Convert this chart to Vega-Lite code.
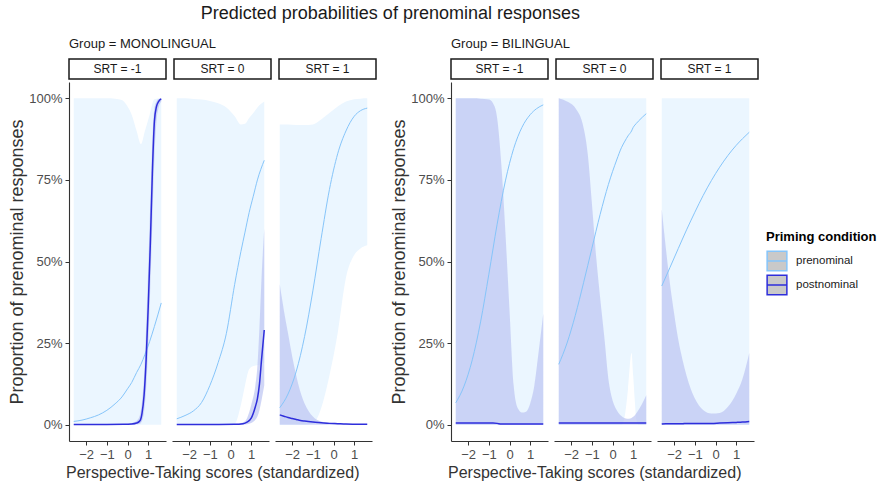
{
  "$schema": "https://vega.github.io/schema/vega-lite/v6.json",
  "background": "white",
  "padding": {"left": 7, "top": 5, "right": 2, "bottom": 2},
  "title": {"text": "Predicted probabilities of prenominal responses", "fontSize": 18, "fontWeight": "normal", "anchor": "middle", "dx": -52, "color": "#1a1a1a", "offset": 15},
  "datasets": {
    "strips": [
      {"group": "MONOLINGUAL", "srt": -1, "label": "SRT = -1"},
      {"group": "MONOLINGUAL", "srt": 0, "label": "SRT = 0"},
      {"group": "MONOLINGUAL", "srt": 1, "label": "SRT = 1"},
      {"group": "BILINGUAL", "srt": -1, "label": "SRT = -1"},
      {"group": "BILINGUAL", "srt": 0, "label": "SRT = 0"},
      {"group": "BILINGUAL", "srt": 1, "label": "SRT = 1"}
    ],
    "curves": [
      {"group": "MONOLINGUAL", "srt": -1, "condition": "prenominal", "x": -2.6, "p": 0.010, "lower": 0, "upper": 1},
      {"group": "MONOLINGUAL", "srt": -1, "condition": "prenominal", "x": -2.2, "p": 0.014, "lower": 0, "upper": 1},
      {"group": "MONOLINGUAL", "srt": -1, "condition": "prenominal", "x": -1.8, "p": 0.021, "lower": 0, "upper": 1},
      {"group": "MONOLINGUAL", "srt": -1, "condition": "prenominal", "x": -1.4, "p": 0.030, "lower": 0, "upper": 1},
      {"group": "MONOLINGUAL", "srt": -1, "condition": "prenominal", "x": -1.0, "p": 0.044, "lower": 0, "upper": 1},
      {"group": "MONOLINGUAL", "srt": -1, "condition": "prenominal", "x": -0.6, "p": 0.064, "lower": 0, "upper": 0.999},
      {"group": "MONOLINGUAL", "srt": -1, "condition": "prenominal", "x": -0.27, "p": 0.085, "lower": 0, "upper": 0.995},
      {"group": "MONOLINGUAL", "srt": -1, "condition": "prenominal", "x": 0.0, "p": 0.11, "lower": 0, "upper": 0.975},
      {"group": "MONOLINGUAL", "srt": -1, "condition": "prenominal", "x": 0.2, "p": 0.129, "lower": 0, "upper": 0.95},
      {"group": "MONOLINGUAL", "srt": -1, "condition": "prenominal", "x": 0.44, "p": 0.16, "lower": 0, "upper": 0.90},
      {"group": "MONOLINGUAL", "srt": -1, "condition": "prenominal", "x": 0.65, "p": 0.185, "lower": 0, "upper": 0.86},
      {"group": "MONOLINGUAL", "srt": -1, "condition": "prenominal", "x": 0.84, "p": 0.215, "lower": 0, "upper": 0.90},
      {"group": "MONOLINGUAL", "srt": -1, "condition": "prenominal", "x": 1.07, "p": 0.255, "lower": 0, "upper": 0.95},
      {"group": "MONOLINGUAL", "srt": -1, "condition": "prenominal", "x": 1.3, "p": 0.301, "lower": 0, "upper": 0.997},
      {"group": "MONOLINGUAL", "srt": -1, "condition": "prenominal", "x": 1.63, "p": 0.373, "lower": 0, "upper": 1},
      {"group": "MONOLINGUAL", "srt": -1, "condition": "postnominal", "x": -2.6, "p": 0.0005, "lower": 0, "upper": 0.001},
      {"group": "MONOLINGUAL", "srt": -1, "condition": "postnominal", "x": -1.8, "p": 0.0005, "lower": 0, "upper": 0.001},
      {"group": "MONOLINGUAL", "srt": -1, "condition": "postnominal", "x": -1.0, "p": 0.0005, "lower": 0, "upper": 0.001},
      {"group": "MONOLINGUAL", "srt": -1, "condition": "postnominal", "x": -0.2, "p": 0.001, "lower": 0, "upper": 0.002},
      {"group": "MONOLINGUAL", "srt": -1, "condition": "postnominal", "x": 0.2, "p": 0.002, "lower": 0, "upper": 0.005},
      {"group": "MONOLINGUAL", "srt": -1, "condition": "postnominal", "x": 0.44, "p": 0.005, "lower": 0.001, "upper": 0.012},
      {"group": "MONOLINGUAL", "srt": -1, "condition": "postnominal", "x": 0.6, "p": 0.012, "lower": 0.003, "upper": 0.03},
      {"group": "MONOLINGUAL", "srt": -1, "condition": "postnominal", "x": 0.7, "p": 0.035, "lower": 0.012, "upper": 0.07},
      {"group": "MONOLINGUAL", "srt": -1, "condition": "postnominal", "x": 0.8, "p": 0.09, "lower": 0.04, "upper": 0.15},
      {"group": "MONOLINGUAL", "srt": -1, "condition": "postnominal", "x": 0.9, "p": 0.20, "lower": 0.11, "upper": 0.30},
      {"group": "MONOLINGUAL", "srt": -1, "condition": "postnominal", "x": 1.0, "p": 0.36, "lower": 0.24, "upper": 0.48},
      {"group": "MONOLINGUAL", "srt": -1, "condition": "postnominal", "x": 1.1, "p": 0.55, "lower": 0.42, "upper": 0.68},
      {"group": "MONOLINGUAL", "srt": -1, "condition": "postnominal", "x": 1.2, "p": 0.77, "lower": 0.62, "upper": 0.87},
      {"group": "MONOLINGUAL", "srt": -1, "condition": "postnominal", "x": 1.3, "p": 0.93, "lower": 0.82, "upper": 0.97},
      {"group": "MONOLINGUAL", "srt": -1, "condition": "postnominal", "x": 1.4, "p": 0.975, "lower": 0.93, "upper": 0.99},
      {"group": "MONOLINGUAL", "srt": -1, "condition": "postnominal", "x": 1.5, "p": 0.99, "lower": 0.97, "upper": 0.998},
      {"group": "MONOLINGUAL", "srt": -1, "condition": "postnominal", "x": 1.63, "p": 0.998, "lower": 0.99, "upper": 1},

      {"group": "MONOLINGUAL", "srt": 0, "condition": "prenominal", "x": -2.6, "p": 0.018, "lower": 0, "upper": 1},
      {"group": "MONOLINGUAL", "srt": 0, "condition": "prenominal", "x": -2.2, "p": 0.028, "lower": 0, "upper": 1},
      {"group": "MONOLINGUAL", "srt": 0, "condition": "prenominal", "x": -1.8, "p": 0.042, "lower": 0, "upper": 0.998},
      {"group": "MONOLINGUAL", "srt": 0, "condition": "prenominal", "x": -1.4, "p": 0.068, "lower": 0, "upper": 0.996},
      {"group": "MONOLINGUAL", "srt": 0, "condition": "prenominal", "x": -1.0, "p": 0.12, "lower": 0, "upper": 0.992},
      {"group": "MONOLINGUAL", "srt": 0, "condition": "prenominal", "x": -0.6, "p": 0.19, "lower": 0, "upper": 0.985},
      {"group": "MONOLINGUAL", "srt": 0, "condition": "prenominal", "x": -0.2, "p": 0.28, "lower": 0, "upper": 0.972},
      {"group": "MONOLINGUAL", "srt": 0, "condition": "prenominal", "x": 0.2, "p": 0.43, "lower": 0.003, "upper": 0.945},
      {"group": "MONOLINGUAL", "srt": 0, "condition": "prenominal", "x": 0.5, "p": 0.53, "lower": 0.06, "upper": 0.92},
      {"group": "MONOLINGUAL", "srt": 0, "condition": "prenominal", "x": 0.7, "p": 0.59, "lower": 0.12, "upper": 0.922},
      {"group": "MONOLINGUAL", "srt": 0, "condition": "prenominal", "x": 0.9, "p": 0.65, "lower": 0.17, "upper": 0.94},
      {"group": "MONOLINGUAL", "srt": 0, "condition": "prenominal", "x": 1.1, "p": 0.70, "lower": 0.18, "upper": 0.955},
      {"group": "MONOLINGUAL", "srt": 0, "condition": "prenominal", "x": 1.3, "p": 0.75, "lower": 0.182, "upper": 0.972},
      {"group": "MONOLINGUAL", "srt": 0, "condition": "prenominal", "x": 1.63, "p": 0.81, "lower": 0.19, "upper": 0.99},
      {"group": "MONOLINGUAL", "srt": 0, "condition": "postnominal", "x": -2.6, "p": 0.0005, "lower": 0, "upper": 0.001},
      {"group": "MONOLINGUAL", "srt": 0, "condition": "postnominal", "x": -1.0, "p": 0.0005, "lower": 0, "upper": 0.001},
      {"group": "MONOLINGUAL", "srt": 0, "condition": "postnominal", "x": 0.2, "p": 0.001, "lower": 0, "upper": 0.003},
      {"group": "MONOLINGUAL", "srt": 0, "condition": "postnominal", "x": 0.6, "p": 0.003, "lower": 0, "upper": 0.007},
      {"group": "MONOLINGUAL", "srt": 0, "condition": "postnominal", "x": 0.8, "p": 0.008, "lower": 0.001, "upper": 0.02},
      {"group": "MONOLINGUAL", "srt": 0, "condition": "postnominal", "x": 1.0, "p": 0.02, "lower": 0.005, "upper": 0.06},
      {"group": "MONOLINGUAL", "srt": 0, "condition": "postnominal", "x": 1.2, "p": 0.055, "lower": 0.015, "upper": 0.12},
      {"group": "MONOLINGUAL", "srt": 0, "condition": "postnominal", "x": 1.3, "p": 0.08, "lower": 0.025, "upper": 0.18},
      {"group": "MONOLINGUAL", "srt": 0, "condition": "postnominal", "x": 1.4, "p": 0.125, "lower": 0.045, "upper": 0.30},
      {"group": "MONOLINGUAL", "srt": 0, "condition": "postnominal", "x": 1.5, "p": 0.20, "lower": 0.075, "upper": 0.45},
      {"group": "MONOLINGUAL", "srt": 0, "condition": "postnominal", "x": 1.63, "p": 0.29, "lower": 0.12, "upper": 0.60},

      {"group": "MONOLINGUAL", "srt": 1, "condition": "prenominal", "x": -2.6, "p": 0.052, "lower": 0, "upper": 0.92},
      {"group": "MONOLINGUAL", "srt": 1, "condition": "prenominal", "x": -2.2, "p": 0.094, "lower": 0, "upper": 0.92},
      {"group": "MONOLINGUAL", "srt": 1, "condition": "prenominal", "x": -1.8, "p": 0.164, "lower": 0, "upper": 0.918},
      {"group": "MONOLINGUAL", "srt": 1, "condition": "prenominal", "x": -1.4, "p": 0.27, "lower": 0, "upper": 0.918},
      {"group": "MONOLINGUAL", "srt": 1, "condition": "prenominal", "x": -1.0, "p": 0.41, "lower": 0.003, "upper": 0.92},
      {"group": "MONOLINGUAL", "srt": 1, "condition": "prenominal", "x": -0.6, "p": 0.57, "lower": 0.05, "upper": 0.935},
      {"group": "MONOLINGUAL", "srt": 1, "condition": "prenominal", "x": -0.2, "p": 0.72, "lower": 0.15, "upper": 0.955},
      {"group": "MONOLINGUAL", "srt": 1, "condition": "prenominal", "x": 0.2, "p": 0.83, "lower": 0.28, "upper": 0.975},
      {"group": "MONOLINGUAL", "srt": 1, "condition": "prenominal", "x": 0.6, "p": 0.90, "lower": 0.45, "upper": 0.99},
      {"group": "MONOLINGUAL", "srt": 1, "condition": "prenominal", "x": 1.0, "p": 0.945, "lower": 0.52, "upper": 0.997},
      {"group": "MONOLINGUAL", "srt": 1, "condition": "prenominal", "x": 1.3, "p": 0.962, "lower": 0.54, "upper": 0.999},
      {"group": "MONOLINGUAL", "srt": 1, "condition": "prenominal", "x": 1.63, "p": 0.97, "lower": 0.55, "upper": 1},
      {"group": "MONOLINGUAL", "srt": 1, "condition": "postnominal", "x": -2.6, "p": 0.03, "lower": 0, "upper": 0.43},
      {"group": "MONOLINGUAL", "srt": 1, "condition": "postnominal", "x": -2.4, "p": 0.026, "lower": 0, "upper": 0.35},
      {"group": "MONOLINGUAL", "srt": 1, "condition": "postnominal", "x": -2.2, "p": 0.022, "lower": 0, "upper": 0.28},
      {"group": "MONOLINGUAL", "srt": 1, "condition": "postnominal", "x": -2.0, "p": 0.019, "lower": 0, "upper": 0.21},
      {"group": "MONOLINGUAL", "srt": 1, "condition": "postnominal", "x": -1.8, "p": 0.016, "lower": 0, "upper": 0.15},
      {"group": "MONOLINGUAL", "srt": 1, "condition": "postnominal", "x": -1.6, "p": 0.013, "lower": 0, "upper": 0.10},
      {"group": "MONOLINGUAL", "srt": 1, "condition": "postnominal", "x": -1.4, "p": 0.011, "lower": 0, "upper": 0.065},
      {"group": "MONOLINGUAL", "srt": 1, "condition": "postnominal", "x": -1.0, "p": 0.008, "lower": 0, "upper": 0.025},
      {"group": "MONOLINGUAL", "srt": 1, "condition": "postnominal", "x": -0.6, "p": 0.006, "lower": 0, "upper": 0.01},
      {"group": "MONOLINGUAL", "srt": 1, "condition": "postnominal", "x": -0.2, "p": 0.004, "lower": 0, "upper": 0.006},
      {"group": "MONOLINGUAL", "srt": 1, "condition": "postnominal", "x": 0.2, "p": 0.003, "lower": 0, "upper": 0.004},
      {"group": "MONOLINGUAL", "srt": 1, "condition": "postnominal", "x": 0.6, "p": 0.002, "lower": 0, "upper": 0.003},
      {"group": "MONOLINGUAL", "srt": 1, "condition": "postnominal", "x": 1.0, "p": 0.0015, "lower": 0, "upper": 0.002},
      {"group": "MONOLINGUAL", "srt": 1, "condition": "postnominal", "x": 1.63, "p": 0.001, "lower": 0, "upper": 0.0015},

      {"group": "BILINGUAL", "srt": -1, "condition": "prenominal", "x": -2.6, "p": 0.067, "lower": 0, "upper": 1},
      {"group": "BILINGUAL", "srt": -1, "condition": "prenominal", "x": -2.2, "p": 0.118, "lower": 0, "upper": 1},
      {"group": "BILINGUAL", "srt": -1, "condition": "prenominal", "x": -1.8, "p": 0.199, "lower": 0, "upper": 1},
      {"group": "BILINGUAL", "srt": -1, "condition": "prenominal", "x": -1.4, "p": 0.315, "lower": 0, "upper": 1},
      {"group": "BILINGUAL", "srt": -1, "condition": "prenominal", "x": -1.0, "p": 0.461, "lower": 0, "upper": 1},
      {"group": "BILINGUAL", "srt": -1, "condition": "prenominal", "x": -0.6, "p": 0.614, "lower": 0, "upper": 1},
      {"group": "BILINGUAL", "srt": -1, "condition": "prenominal", "x": -0.2, "p": 0.747, "lower": 0, "upper": 1},
      {"group": "BILINGUAL", "srt": -1, "condition": "prenominal", "x": 0.2, "p": 0.846, "lower": 0, "upper": 1},
      {"group": "BILINGUAL", "srt": -1, "condition": "prenominal", "x": 0.6, "p": 0.911, "lower": 0, "upper": 1},
      {"group": "BILINGUAL", "srt": -1, "condition": "prenominal", "x": 1.0, "p": 0.950, "lower": 0, "upper": 1},
      {"group": "BILINGUAL", "srt": -1, "condition": "prenominal", "x": 1.3, "p": 0.968, "lower": 0, "upper": 1},
      {"group": "BILINGUAL", "srt": -1, "condition": "prenominal", "x": 1.63, "p": 0.980, "lower": 0, "upper": 1},
      {"group": "BILINGUAL", "srt": -1, "condition": "postnominal", "x": -2.6, "p": 0.005, "lower": 0, "upper": 1},
      {"group": "BILINGUAL", "srt": -1, "condition": "postnominal", "x": -2.2, "p": 0.005, "lower": 0, "upper": 1},
      {"group": "BILINGUAL", "srt": -1, "condition": "postnominal", "x": -1.8, "p": 0.005, "lower": 0, "upper": 1},
      {"group": "BILINGUAL", "srt": -1, "condition": "postnominal", "x": -1.4, "p": 0.005, "lower": 0, "upper": 0.999},
      {"group": "BILINGUAL", "srt": -1, "condition": "postnominal", "x": -1.0, "p": 0.005, "lower": 0, "upper": 0.996},
      {"group": "BILINGUAL", "srt": -1, "condition": "postnominal", "x": -0.8, "p": 0.005, "lower": 0, "upper": 0.985},
      {"group": "BILINGUAL", "srt": -1, "condition": "postnominal", "x": -0.6, "p": 0.004, "lower": 0, "upper": 0.94},
      {"group": "BILINGUAL", "srt": -1, "condition": "postnominal", "x": -0.4, "p": 0.002, "lower": 0, "upper": 0.80},
      {"group": "BILINGUAL", "srt": -1, "condition": "postnominal", "x": -0.2, "p": 0.002, "lower": 0, "upper": 0.59},
      {"group": "BILINGUAL", "srt": -1, "condition": "postnominal", "x": 0.0, "p": 0.002, "lower": 0, "upper": 0.35},
      {"group": "BILINGUAL", "srt": -1, "condition": "postnominal", "x": 0.2, "p": 0.002, "lower": 0, "upper": 0.12},
      {"group": "BILINGUAL", "srt": -1, "condition": "postnominal", "x": 0.4, "p": 0.002, "lower": 0, "upper": 0.05},
      {"group": "BILINGUAL", "srt": -1, "condition": "postnominal", "x": 0.6, "p": 0.002, "lower": 0, "upper": 0.037},
      {"group": "BILINGUAL", "srt": -1, "condition": "postnominal", "x": 0.8, "p": 0.002, "lower": 0, "upper": 0.04},
      {"group": "BILINGUAL", "srt": -1, "condition": "postnominal", "x": 1.0, "p": 0.002, "lower": 0, "upper": 0.065},
      {"group": "BILINGUAL", "srt": -1, "condition": "postnominal", "x": 1.2, "p": 0.002, "lower": 0, "upper": 0.12},
      {"group": "BILINGUAL", "srt": -1, "condition": "postnominal", "x": 1.4, "p": 0.002, "lower": 0, "upper": 0.22},
      {"group": "BILINGUAL", "srt": -1, "condition": "postnominal", "x": 1.63, "p": 0.002, "lower": 0, "upper": 0.34},

      {"group": "BILINGUAL", "srt": 0, "condition": "prenominal", "x": -2.6, "p": 0.185, "lower": 0, "upper": 1},
      {"group": "BILINGUAL", "srt": 0, "condition": "prenominal", "x": -2.2, "p": 0.25, "lower": 0, "upper": 1},
      {"group": "BILINGUAL", "srt": 0, "condition": "prenominal", "x": -1.8, "p": 0.335, "lower": 0, "upper": 1},
      {"group": "BILINGUAL", "srt": 0, "condition": "prenominal", "x": -1.4, "p": 0.435, "lower": 0, "upper": 1},
      {"group": "BILINGUAL", "srt": 0, "condition": "prenominal", "x": -1.0, "p": 0.54, "lower": 0, "upper": 1},
      {"group": "BILINGUAL", "srt": 0, "condition": "prenominal", "x": -0.6, "p": 0.644, "lower": 0, "upper": 1},
      {"group": "BILINGUAL", "srt": 0, "condition": "prenominal", "x": -0.2, "p": 0.736, "lower": 0, "upper": 1},
      {"group": "BILINGUAL", "srt": 0, "condition": "prenominal", "x": 0.2, "p": 0.811, "lower": 0, "upper": 1},
      {"group": "BILINGUAL", "srt": 0, "condition": "prenominal", "x": 0.44, "p": 0.85, "lower": 0, "upper": 1},
      {"group": "BILINGUAL", "srt": 0, "condition": "prenominal", "x": 0.6, "p": 0.869, "lower": 0.03, "upper": 1},
      {"group": "BILINGUAL", "srt": 0, "condition": "prenominal", "x": 0.75, "p": 0.885, "lower": 0.11, "upper": 1},
      {"group": "BILINGUAL", "srt": 0, "condition": "prenominal", "x": 0.92, "p": 0.90, "lower": 0.22, "upper": 1},
      {"group": "BILINGUAL", "srt": 0, "condition": "prenominal", "x": 1.0, "p": 0.911, "lower": 0.15, "upper": 1},
      {"group": "BILINGUAL", "srt": 0, "condition": "prenominal", "x": 1.08, "p": 0.918, "lower": 0.07, "upper": 1},
      {"group": "BILINGUAL", "srt": 0, "condition": "prenominal", "x": 1.15, "p": 0.923, "lower": 0.015, "upper": 1},
      {"group": "BILINGUAL", "srt": 0, "condition": "prenominal", "x": 1.25, "p": 0.93, "lower": 0, "upper": 1},
      {"group": "BILINGUAL", "srt": 0, "condition": "prenominal", "x": 1.63, "p": 0.953, "lower": 0, "upper": 1},
      {"group": "BILINGUAL", "srt": 0, "condition": "postnominal", "x": -2.6, "p": 0.005, "lower": 0, "upper": 1},
      {"group": "BILINGUAL", "srt": 0, "condition": "postnominal", "x": -2.2, "p": 0.005, "lower": 0, "upper": 0.99},
      {"group": "BILINGUAL", "srt": 0, "condition": "postnominal", "x": -1.8, "p": 0.005, "lower": 0, "upper": 0.97},
      {"group": "BILINGUAL", "srt": 0, "condition": "postnominal", "x": -1.4, "p": 0.005, "lower": 0, "upper": 0.91},
      {"group": "BILINGUAL", "srt": 0, "condition": "postnominal", "x": -1.2, "p": 0.005, "lower": 0, "upper": 0.83},
      {"group": "BILINGUAL", "srt": 0, "condition": "postnominal", "x": -1.0, "p": 0.005, "lower": 0, "upper": 0.68},
      {"group": "BILINGUAL", "srt": 0, "condition": "postnominal", "x": -0.8, "p": 0.005, "lower": 0, "upper": 0.52},
      {"group": "BILINGUAL", "srt": 0, "condition": "postnominal", "x": -0.6, "p": 0.005, "lower": 0, "upper": 0.39},
      {"group": "BILINGUAL", "srt": 0, "condition": "postnominal", "x": -0.4, "p": 0.005, "lower": 0, "upper": 0.27},
      {"group": "BILINGUAL", "srt": 0, "condition": "postnominal", "x": -0.2, "p": 0.005, "lower": 0, "upper": 0.14},
      {"group": "BILINGUAL", "srt": 0, "condition": "postnominal", "x": 0.0, "p": 0.005, "lower": 0, "upper": 0.075},
      {"group": "BILINGUAL", "srt": 0, "condition": "postnominal", "x": 0.2, "p": 0.005, "lower": 0, "upper": 0.045},
      {"group": "BILINGUAL", "srt": 0, "condition": "postnominal", "x": 0.4, "p": 0.005, "lower": 0, "upper": 0.028},
      {"group": "BILINGUAL", "srt": 0, "condition": "postnominal", "x": 0.6, "p": 0.005, "lower": 0, "upper": 0.02},
      {"group": "BILINGUAL", "srt": 0, "condition": "postnominal", "x": 0.8, "p": 0.005, "lower": 0, "upper": 0.018},
      {"group": "BILINGUAL", "srt": 0, "condition": "postnominal", "x": 1.0, "p": 0.005, "lower": 0, "upper": 0.024},
      {"group": "BILINGUAL", "srt": 0, "condition": "postnominal", "x": 1.2, "p": 0.005, "lower": 0, "upper": 0.04},
      {"group": "BILINGUAL", "srt": 0, "condition": "postnominal", "x": 1.4, "p": 0.005, "lower": 0, "upper": 0.06},
      {"group": "BILINGUAL", "srt": 0, "condition": "postnominal", "x": 1.63, "p": 0.005, "lower": 0, "upper": 0.09},

      {"group": "BILINGUAL", "srt": 1, "condition": "prenominal", "x": -2.6, "p": 0.425, "lower": 0, "upper": 1},
      {"group": "BILINGUAL", "srt": 1, "condition": "prenominal", "x": -2.2, "p": 0.482, "lower": 0, "upper": 1},
      {"group": "BILINGUAL", "srt": 1, "condition": "prenominal", "x": -1.8, "p": 0.54, "lower": 0, "upper": 1},
      {"group": "BILINGUAL", "srt": 1, "condition": "prenominal", "x": -1.4, "p": 0.597, "lower": 0, "upper": 1},
      {"group": "BILINGUAL", "srt": 1, "condition": "prenominal", "x": -1.0, "p": 0.651, "lower": 0, "upper": 1},
      {"group": "BILINGUAL", "srt": 1, "condition": "prenominal", "x": -0.6, "p": 0.702, "lower": 0, "upper": 1},
      {"group": "BILINGUAL", "srt": 1, "condition": "prenominal", "x": -0.2, "p": 0.748, "lower": 0, "upper": 1},
      {"group": "BILINGUAL", "srt": 1, "condition": "prenominal", "x": 0.2, "p": 0.789, "lower": 0, "upper": 1},
      {"group": "BILINGUAL", "srt": 1, "condition": "prenominal", "x": 0.6, "p": 0.825, "lower": 0, "upper": 1},
      {"group": "BILINGUAL", "srt": 1, "condition": "prenominal", "x": 1.0, "p": 0.856, "lower": 0, "upper": 1},
      {"group": "BILINGUAL", "srt": 1, "condition": "prenominal", "x": 1.3, "p": 0.876, "lower": 0, "upper": 1},
      {"group": "BILINGUAL", "srt": 1, "condition": "prenominal", "x": 1.63, "p": 0.896, "lower": 0, "upper": 1},
      {"group": "BILINGUAL", "srt": 1, "condition": "postnominal", "x": -2.6, "p": 0.002, "lower": 0, "upper": 0.66},
      {"group": "BILINGUAL", "srt": 1, "condition": "postnominal", "x": -2.4, "p": 0.003, "lower": 0, "upper": 0.54},
      {"group": "BILINGUAL", "srt": 1, "condition": "postnominal", "x": -2.2, "p": 0.003, "lower": 0, "upper": 0.43},
      {"group": "BILINGUAL", "srt": 1, "condition": "postnominal", "x": -2.0, "p": 0.003, "lower": 0, "upper": 0.34},
      {"group": "BILINGUAL", "srt": 1, "condition": "postnominal", "x": -1.8, "p": 0.003, "lower": 0, "upper": 0.26},
      {"group": "BILINGUAL", "srt": 1, "condition": "postnominal", "x": -1.6, "p": 0.003, "lower": 0, "upper": 0.20},
      {"group": "BILINGUAL", "srt": 1, "condition": "postnominal", "x": -1.4, "p": 0.004, "lower": 0, "upper": 0.15},
      {"group": "BILINGUAL", "srt": 1, "condition": "postnominal", "x": -1.2, "p": 0.004, "lower": 0, "upper": 0.11},
      {"group": "BILINGUAL", "srt": 1, "condition": "postnominal", "x": -1.0, "p": 0.004, "lower": 0, "upper": 0.08},
      {"group": "BILINGUAL", "srt": 1, "condition": "postnominal", "x": -0.6, "p": 0.004, "lower": 0, "upper": 0.045},
      {"group": "BILINGUAL", "srt": 1, "condition": "postnominal", "x": -0.2, "p": 0.004, "lower": 0, "upper": 0.034},
      {"group": "BILINGUAL", "srt": 1, "condition": "postnominal", "x": 0.2, "p": 0.005, "lower": 0, "upper": 0.036},
      {"group": "BILINGUAL", "srt": 1, "condition": "postnominal", "x": 0.6, "p": 0.006, "lower": 0, "upper": 0.055},
      {"group": "BILINGUAL", "srt": 1, "condition": "postnominal", "x": 1.0, "p": 0.007, "lower": 0, "upper": 0.095},
      {"group": "BILINGUAL", "srt": 1, "condition": "postnominal", "x": 1.3, "p": 0.008, "lower": 0, "upper": 0.14},
      {"group": "BILINGUAL", "srt": 1, "condition": "postnominal", "x": 1.63, "p": 0.01, "lower": 0, "upper": 0.22}
    ]
  },
  "spacing": 12,
  "hconcat": [
    {
      "title": {"text": "Group = MONOLINGUAL", "anchor": "start", "frame": "group", "fontSize": 13, "fontWeight": "normal", "color": "#1a1a1a", "offset": 7},
      "spacing": 2,
      "vconcat": [
        {
          "data": {"name": "strips"},
          "transform": [{"filter": "datum.group === 'MONOLINGUAL'"}],
          "facet": {"column": {"field": "srt", "type": "ordinal", "header": null}},
          "spacing": 6,
          "spec": {
            "width": 97, "height": 20,
            "layer": [
              {"mark": {"type": "rect", "fill": "white", "stroke": "#1a1a1a", "strokeWidth": 1.5},
               "encoding": {
                 "y": {"datum": 0, "type": "quantitative", "scale": {"domain": [0, 1], "nice": false, "zero": false},
                       "axis": {"values": [0.5], "labelExpr": "'100%'", "title": "P", "titleFontSize": 18, "titlePadding": 2, "labelOpacity": 0, "titleOpacity": 0, "tickOpacity": 0, "domainOpacity": 0, "labelOverlap": false}},
                 "y2": {"datum": 1}
               }},
              {"mark": {"type": "text", "fontSize": 12, "color": "#1a1a1a"},
               "encoding": {"text": {"field": "label"}}}
            ]
          }
        },
        {
          "data": {"name": "curves"},
          "transform": [{"filter": "datum.group === 'MONOLINGUAL'"}],
          "title": {"text": "Perspective-Taking scores (standardized)", "orient": "bottom", "anchor": "start", "frame": "group", "dx": -3, "fontSize": 16, "fontWeight": "normal", "color": "#333333", "offset": 4},
          "facet": {"column": {"field": "srt", "type": "ordinal", "header": null}},
          "spacing": 6,
          "spec": {
            "width": 97, "height": 359,
            "encoding": {
              "x": {"field": "x", "type": "quantitative", "scale": {"domain": [-2.83, 1.86], "nice": false, "zero": false},
                    "axis": {"values": [-2, -1, 0, 1], "title": null}}
            },
            "layer": [
              {"transform": [{"filter": "datum.condition === 'prenominal'"}],
               "mark": {"type": "area", "interpolate": "monotone", "fill": "#EBF6FF"},
               "encoding": {
                 "y": {"field": "lower", "type": "quantitative", "scale": {"domain": [-0.05, 1.05], "nice": false, "zero": false},
                       "axis": {"values": [0, 0.25, 0.5, 0.75, 1], "format": ".0%", "title": "Proportion of prenominal responses", "titleFontSize": 18, "titlePadding": 2}},
                 "y2": {"field": "upper"}
               }},
              {"transform": [{"filter": "datum.condition === 'postnominal'"}],
               "mark": {"type": "area", "interpolate": "monotone", "fill": "#BCC5F2", "opacity": 0.7},
               "encoding": {"y": {"field": "lower", "type": "quantitative"}, "y2": {"field": "upper"}}},
              {"transform": [{"filter": "datum.condition === 'prenominal'"}],
               "mark": {"type": "line", "interpolate": "monotone", "strokeWidth": 1},
               "encoding": {"y": {"field": "p", "type": "quantitative"},
                 "stroke": {"field": "condition", "type": "nominal", "scale": {"domain": ["prenominal", "postnominal"], "range": ["#86C5FA", "#2E2EDB"]},
                   "legend": {"title": "Priming condition", "orient": "none", "legendX": 697, "legendY": 172,
                     "symbolType": "M-1,-1H1V1H-1Z M-1,0H1", "symbolSize": 390, "titleFontSize": 13, "titleFontWeight": "bold", "titleColor": "black",
                     "labelFontSize": 11.5, "labelColor": "#1a1a1a", "labelOffset": 8, "titlePadding": 6, "rowPadding": -2,
                     "encode": {"symbols": {"update": {"fill": {"value": "#c9c9c9"}, "fillOpacity": {"value": 1}, "strokeWidth": {"value": 1.5}, "opacity": {"value": 1}}}}}}}},
              {"transform": [{"filter": "datum.condition === 'postnominal'"}],
               "mark": {"type": "line", "interpolate": "monotone", "strokeWidth": 1.5},
               "encoding": {"y": {"field": "p", "type": "quantitative"},
                 "stroke": {"field": "condition", "type": "nominal"}}}
            ]
          }
        }
      ]
    },
    {
      "title": {"text": "Group = BILINGUAL", "anchor": "start", "frame": "group", "fontSize": 13, "fontWeight": "normal", "color": "#1a1a1a", "offset": 7},
      "spacing": 2,
      "vconcat": [
        {
          "data": {"name": "strips"},
          "transform": [{"filter": "datum.group === 'BILINGUAL'"}],
          "facet": {"column": {"field": "srt", "type": "ordinal", "header": null}},
          "spacing": 6,
          "spec": {
            "width": 97, "height": 20,
            "layer": [
              {"mark": {"type": "rect", "fill": "white", "stroke": "#1a1a1a", "strokeWidth": 1.5},
               "encoding": {
                 "y": {"datum": 0, "type": "quantitative", "scale": {"domain": [0, 1], "nice": false, "zero": false},
                       "axis": {"values": [0.5], "labelExpr": "'100%'", "title": "P", "titleFontSize": 18, "titlePadding": 2, "labelOpacity": 0, "titleOpacity": 0, "tickOpacity": 0, "domainOpacity": 0, "labelOverlap": false}},
                 "y2": {"datum": 1}
               }},
              {"mark": {"type": "text", "fontSize": 12, "color": "#1a1a1a"},
               "encoding": {"text": {"field": "label"}}}
            ]
          }
        },
        {
          "data": {"name": "curves"},
          "transform": [{"filter": "datum.group === 'BILINGUAL'"}],
          "title": {"text": "Perspective-Taking scores (standardized)", "orient": "bottom", "anchor": "start", "frame": "group", "dx": -3, "fontSize": 16, "fontWeight": "normal", "color": "#333333", "offset": 4},
          "facet": {"column": {"field": "srt", "type": "ordinal", "header": null}},
          "spacing": 6,
          "spec": {
            "width": 97, "height": 359,
            "encoding": {
              "x": {"field": "x", "type": "quantitative", "scale": {"domain": [-2.83, 1.86], "nice": false, "zero": false},
                    "axis": {"values": [-2, -1, 0, 1], "title": null}}
            },
            "layer": [
              {"transform": [{"filter": "datum.condition === 'prenominal'"}],
               "mark": {"type": "area", "interpolate": "monotone", "fill": "#EBF6FF"},
               "encoding": {
                 "y": {"field": "lower", "type": "quantitative", "scale": {"domain": [-0.05, 1.05], "nice": false, "zero": false},
                       "axis": {"values": [0, 0.25, 0.5, 0.75, 1], "format": ".0%", "title": "Proportion of prenominal responses", "titleFontSize": 18, "titlePadding": 2}},
                 "y2": {"field": "upper"}
               }},
              {"transform": [{"filter": "datum.condition === 'postnominal'"}],
               "mark": {"type": "area", "interpolate": "monotone", "fill": "#BCC5F2", "opacity": 0.7},
               "encoding": {"y": {"field": "lower", "type": "quantitative"}, "y2": {"field": "upper"}}},
              {"transform": [{"filter": "datum.condition === 'prenominal'"}],
               "mark": {"type": "line", "interpolate": "monotone", "strokeWidth": 1},
               "encoding": {"y": {"field": "p", "type": "quantitative"},
                 "stroke": {"field": "condition", "type": "nominal"}}},
              {"transform": [{"filter": "datum.condition === 'postnominal'"}],
               "mark": {"type": "line", "interpolate": "monotone", "strokeWidth": 1.5},
               "encoding": {"y": {"field": "p", "type": "quantitative"},
                 "stroke": {"field": "condition", "type": "nominal"}}}
            ]
          }
        }
      ]
    }
  ],
  "config": {
    "font": "Liberation Sans",
    "view": {"stroke": null},
    "axis": {"grid": false, "domainColor": "#333333", "domainWidth": 1.1, "tickColor": "#333333", "tickSize": 4, "labelColor": "#4d4d4d", "labelFontSize": 13, "titleColor": "#333333", "titleFontSize": 16, "titleFontWeight": "normal", "labelPadding": 3}
  }
}
